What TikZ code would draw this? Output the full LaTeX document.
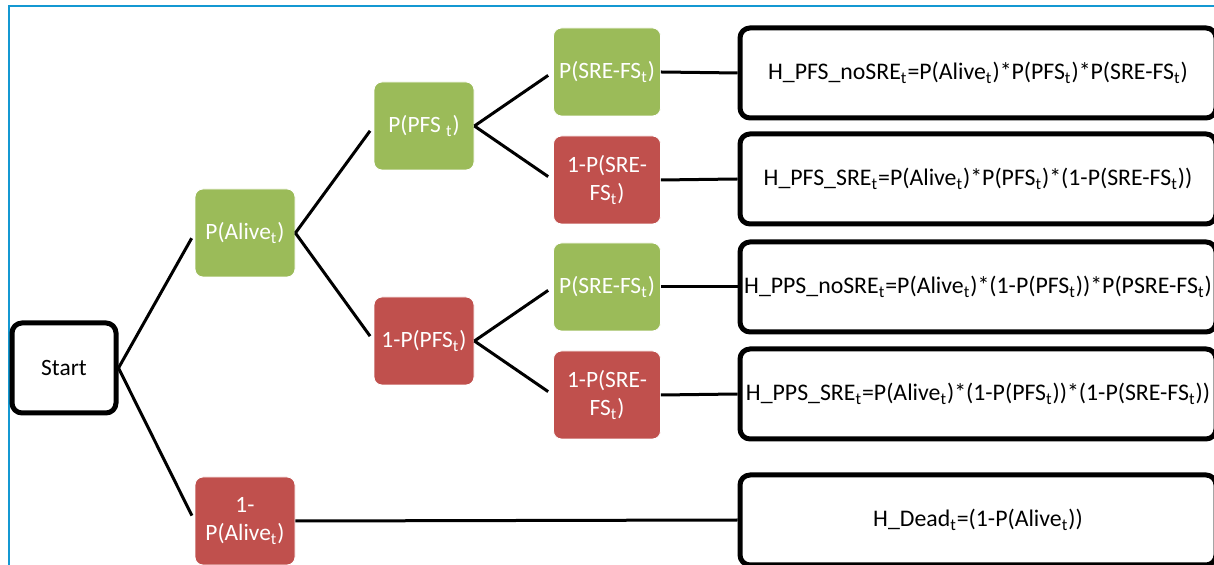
\documentclass[tikz,border=0pt]{standalone}
\usepackage{fontspec}
\setmainfont{Carlito}
\usetikzlibrary{calc}

\definecolor{probgreen}{HTML}{9BBB59}
\definecolor{probred}{HTML}{C0504D}
\definecolor{framecol}{RGB}{20,152,210}

\tikzset{
  probyes/.style={rectangle,rounded corners=4pt,fill=probgreen,draw=white,
    text=white,minimum width=50pt,minimum height=44pt,inner sep=1pt,
    align=center,font=\fontsize{11.7}{14.3}\selectfont},
  probno/.style={probyes,fill=probred},
  wide/.style={minimum width=53.5pt},
  startbox/.style={rectangle,rounded corners=5pt,draw,line width=2.5pt,fill=white,
    minimum width=52pt,minimum height=45pt,font=\fontsize{11.7}{14.3}\selectfont},
  outcome/.style={rectangle,rounded corners=5pt,draw,line width=2.5pt,
    minimum width=238pt,minimum height=45pt,inner sep=1pt,
    font=\fontsize{11.9}{14.3}\selectfont},
  branch/.style={line width=1.5pt},
  into/.style={branch,shorten >=3pt}
}

\newcommand{\tsub}{\textsubscript{t}}

\begin{document}
\begin{tikzpicture}[x=0.5pt,y=-0.5pt]
  \useasboundingbox (0,0) rectangle (1214,565);
  \clip (0,0) rectangle (1214,565);

  % frame round the tree
  \draw[framecol,line width=1.3pt] (9,580) -- (9,6) -- (1230,6);

  % root and chance nodes
  \node[startbox] (start) at (64,368) {Start};
  \node[probyes] (alive) at (245,233) {P(Alive\tsub)};
  \node[probno] (dead) at (245,521) {1-\\P(Alive\tsub)};
  \node[probyes] (pfs) at (424,126) {P(PFS \tsub)};
  \node[probno] (pps) at (424,341) {1-P(PFS\tsub)};
  \node[probyes,wide] (pfsno) at (607,72) {P(SRE-FS\tsub)};
  \node[probno,wide] (pfssre) at (607,180) {1-P(SRE-\\FS\tsub)};
  \node[probyes,wide] (ppsno) at (607,287) {P(SRE-FS\tsub)};
  \node[probno,wide] (ppssre) at (607,395) {1-P(SRE-\\FS\tsub)};

  % health states at the leaves
  \node[outcome] (hpfsno) at (978,73)
    {H\_PFS\_noSRE\tsub=P(Alive\tsub)*P(PFS\tsub)*P(SRE-FS\tsub)};
  \node[outcome] (hpfssre) at (978,179)
    {H\_PFS\_SRE\tsub=P(Alive\tsub)*P(PFS\tsub)*(1-P(SRE-FS\tsub))};
  \node[outcome] (hppsno) at (978,287)
    {H\_PPS\_noSRE\tsub=P(Alive\tsub)*(1-P(PFS\tsub))*P(PSRE-FS\tsub)};
  \node[outcome] (hppssre) at (978,394)
    {H\_PPS\_SRE\tsub=P(Alive\tsub)*(1-P(PFS\tsub))*(1-P(SRE-FS\tsub))};
  \node[outcome] (hdead) at (978,520) {H\_Dead\tsub=(1-P(Alive\tsub))};

  % branches
  \draw[into] (start.east) -- (alive.west);
  \draw[into] (start.east) -- (dead.west);
  \draw[into] (alive.east) -- (pfs.west);
  \draw[into] (alive.east) -- (pps.west);
  \draw[into] (pfs.east) -- (pfsno.west);
  \draw[into] (pfs.east) -- (pfssre.west);
  \draw[into] (pps.east) -- (ppsno.west);
  \draw[into] (pps.east) -- (ppssre.west);

  \draw[branch] (pfsno.east) -- (hpfsno.west);
  \draw[branch] (pfssre.east) -- (hpfssre.west);
  \draw[branch] (ppsno.east) -- (hppsno.west);
  \draw[branch] (ppssre.east) -- (hppssre.west);
  \draw[branch] (dead.east) -- (hdead.west);
\end{tikzpicture}
\end{document}
